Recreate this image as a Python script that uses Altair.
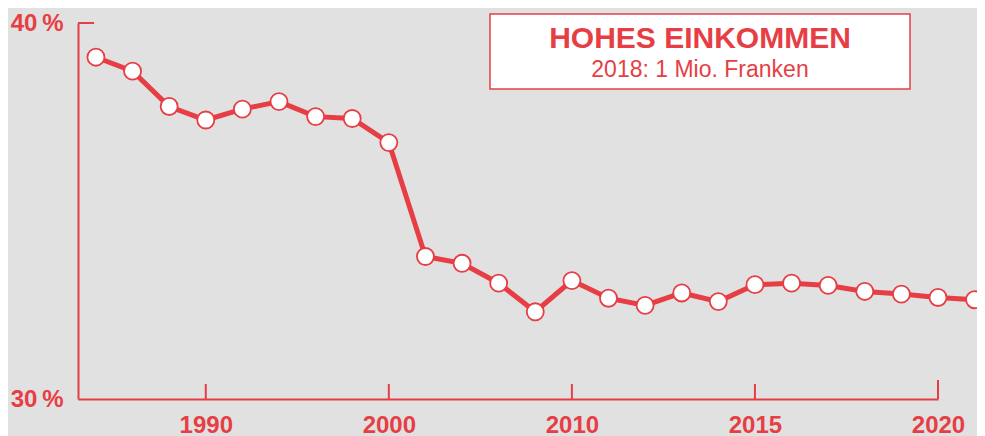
import altair as alt
import pandas as pd

# ---- data ----
years = [1984, 1986, 1988, 1990, 1992, 1994, 1996, 1998, 2000, 2002, 2004, 2006,
         2008, 2010, 2011, 2012, 2013, 2014, 2015, 2016, 2017, 2018, 2019, 2020, 2021]
shares = [39.09, 38.72, 37.78, 37.42, 37.71, 37.91, 37.51, 37.46, 36.82, 33.79,
          33.61, 33.08, 32.32, 33.15, 32.68, 32.49, 32.82, 32.59, 33.04, 33.08,
          33.02, 32.86, 32.79, 32.70, 32.64]
tick_years = [1990, 2000, 2010, 2015, 2020]
y_ticks = [30, 40]
title_text = "HOHES EINKOMMEN"
subtitle_text = "2018: 1 Mio. Franken"

RED = "#E63E44"
BG = "#E1E1E1"
FONT = "Liberation Sans"
W, H = 860, 376

df = pd.DataFrame({"idx": list(range(len(years))), "year": years, "share": shares})
tick_idx = [years.index(y) for y in tick_years]
ticks_df = pd.DataFrame({"idx": tick_idx})
one = pd.DataFrame({"k": [0]})

label_expr = "[" + ",".join(f"'{y}'" for y in years) + "][datum.value]"

x_scale = alt.Scale(domain=[-0.49, tick_idx[-1]], nice=False, zero=False)
y_scale = alt.Scale(domain=[y_ticks[0], y_ticks[-1]], nice=False, zero=False)

x_axis = alt.Axis(values=tick_idx, labelExpr=label_expr, ticks=False, grid=False,
                  domainColor=RED, domainWidth=2, labelColor=RED, labelFont=FONT,
                  labelFontSize=24, labelFontWeight="bold", labelPadding=14,
                  labelFlush=False, labelOverlap=False, title=None)
y_axis = alt.Axis(values=y_ticks, labelExpr="datum.value + '\u2009%'", ticks=False,
                  grid=False, domainColor=RED, domainWidth=2, labelColor=RED,
                  labelFont=FONT, labelFontSize=24, labelFontWeight="bold",
                  labelPadding=15, labelFlush=False, labelBaseline="middle", title=None)

line = alt.Chart(df).mark_line(color=RED, strokeWidth=5).encode(
    x=alt.X("idx:Q", scale=x_scale, axis=x_axis),
    y=alt.Y("share:Q", scale=y_scale, axis=y_axis),
)
points = alt.Chart(df).mark_circle(fill="white", stroke=RED, strokeWidth=1.8,
                                   size=290, opacity=1, fillOpacity=1).encode(
    x="idx:Q", y="share:Q")

tick_rules = alt.Chart(ticks_df).mark_rule(color=RED, strokeWidth=2).encode(
    x="idx:Q", y=alt.value(H - 15), y2=alt.value(H))
end_cap = alt.Chart(ticks_df).transform_filter(
    alt.datum.idx == tick_idx[-1]).mark_rule(color=RED, strokeWidth=2).encode(
    x="idx:Q", y=alt.value(H - 19), y2=alt.value(H))
top_tick = alt.Chart(one).mark_rule(color=RED, strokeWidth=2).encode(
    x=alt.value(0), x2=alt.value(16), y=alt.value(0))

box = alt.Chart(one).mark_rect(fill="white", stroke=RED, strokeWidth=1.5).encode(
    x=alt.value(412), x2=alt.value(832), y=alt.value(-9), y2=alt.value(66))
title = alt.Chart(one).mark_text(text=title_text, font=FONT, fontSize=30,
                                 fontWeight="bold", color=RED, align="center",
                                 baseline="alphabetic").encode(
    x=alt.value(622), y=alt.value(24.7))
subtitle = alt.Chart(one).mark_text(text=subtitle_text, font=FONT, fontSize=23,
                                    color=RED, align="center",
                                    baseline="alphabetic").encode(
    x=alt.value(622), y=alt.value(54.3))

chart = alt.layer(tick_rules, end_cap, top_tick, line, points, box, title, subtitle).properties(
    width=W, height=H,
    autosize=alt.AutoSizeParams(type="none"),
    padding={"left": 70, "top": 15, "right": 39, "bottom": 37},
).configure(background=BG).configure_view(stroke=None)

chart.save("out.html", embed_options={"renderer": "svg", "actions": False})
